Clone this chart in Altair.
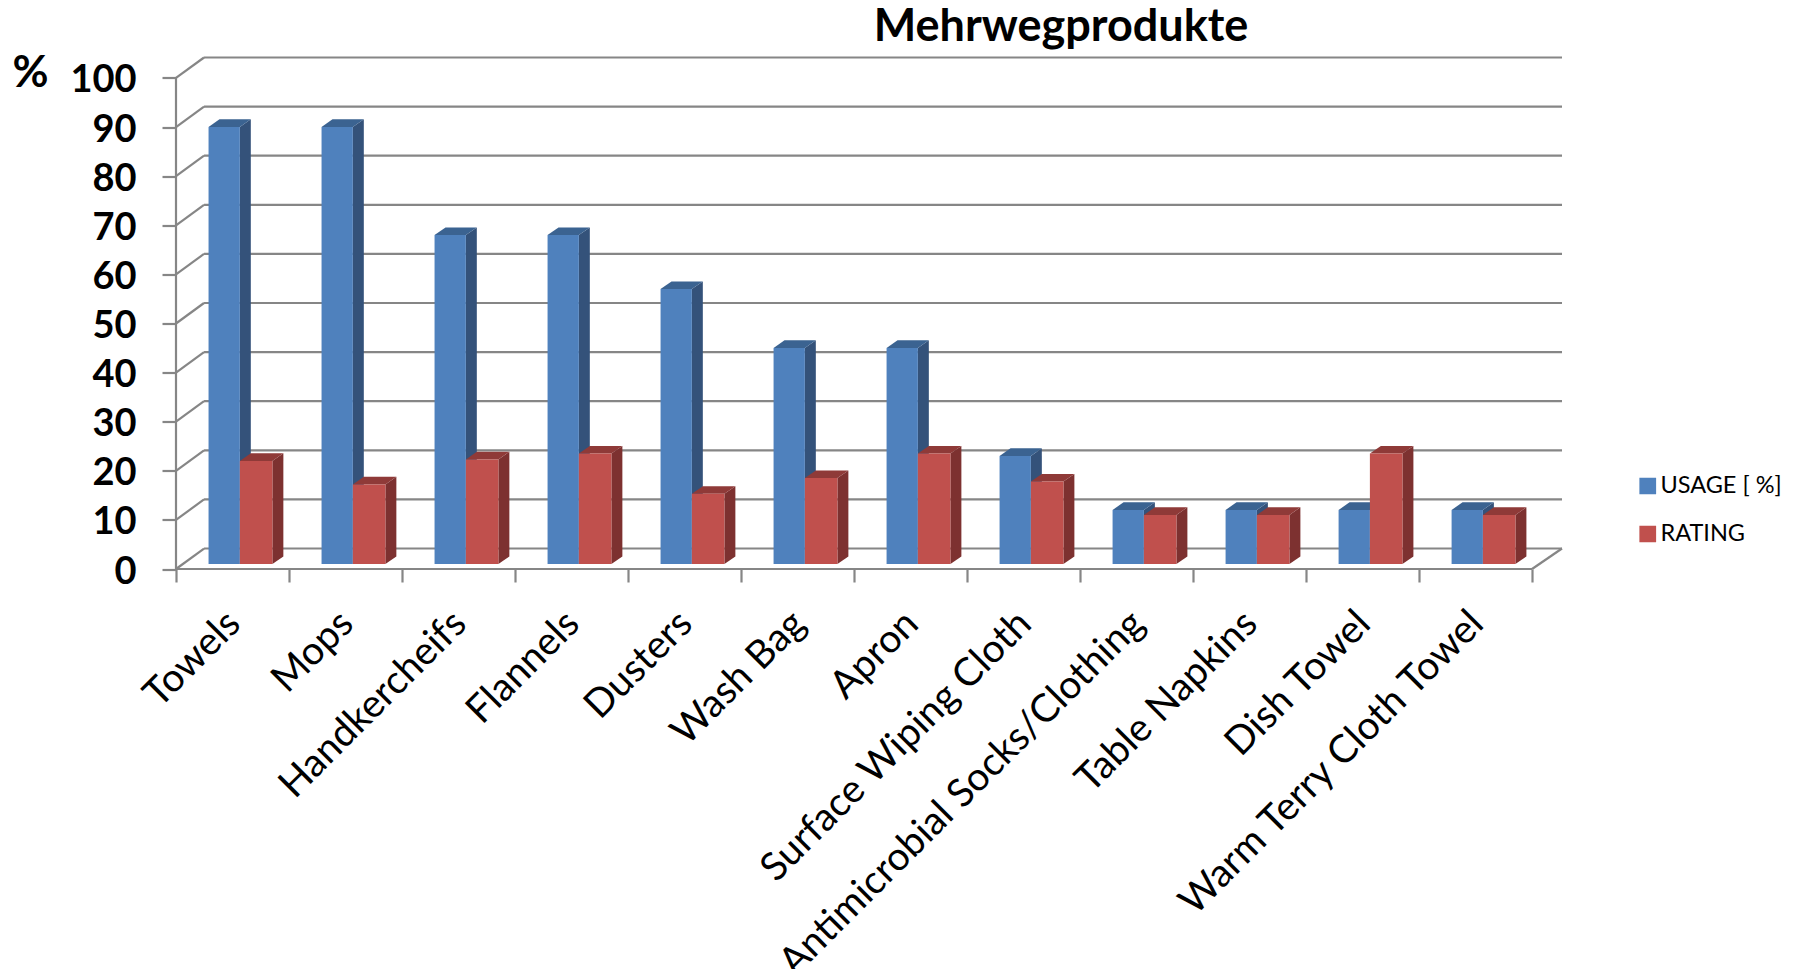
import altair as alt
import pandas as pd

categories = ["Towels", "Mops", "Handkercheifs", "Flannels", "Dusters", "Wash Bag", "Apron",
              "Surface Wiping Cloth", "Antimicrobial Socks/Clothing", "Table Napkins",
              "Dish Towel", "Warm Terry Cloth Towel"]
usage = [89, 89, 67, 67, 56, 44, 44, 22, 11, 11, 11, 11]
rating = [21, 16.2, 21.3, 22.5, 14.3, 17.5, 22.5, 16.8, 10, 10, 22.5, 10]
series_names = ["USAGE [ %]", "RATING"]
y_ticks = [0, 10, 20, 30, 40, 50, 60, 70, 80, 90, 100]

# 3-D projection, in data units
WALL_DX, WALL_DY = 0.248, 4.17
WALL_END = 0.265
BAR_DX, BAR_DY = 0.097, 1.55
BASE = 1.02
BLUE_L, MID, RED_R = 0.288, 0.565, 0.853
GREY = "#868686"
FONT = "Lato"

front, side, top = [], [], []
for i, cat in enumerate(categories):
    for s, val, l, r in ((series_names[0], usage[i], BLUE_L, MID), (series_names[1], rating[i], MID, RED_R)):
        a, b, t = i + l, i + r, val + BASE
        k = f"{i}-{s}"
        front.append(dict(s=s, x=a, x2=b, y=BASE, y2=t))
        side.append(dict(s=s, k=k, x=b, y=t, y2=BASE))
        side.append(dict(s=s, k=k, x=b + BAR_DX, y=t + BAR_DY, y2=BASE + BAR_DY))
        top.append(dict(s=s, k=k, x=a, x2=b, y=t))
        top.append(dict(s=s, k=k, x=a + BAR_DX, x2=b + BAR_DX, y=t + BAR_DY))
front, side, top = pd.DataFrame(front), pd.DataFrame(side), pd.DataFrame(top)

n = len(categories)
walls = [dict(x=0, x2=0, y=0, y2=100), dict(x=0, x2=n, y=0, y2=0),
         dict(x=n, x2=n + WALL_END, y=0, y2=WALL_DY)]
for v in y_ticks:
    walls.append(dict(x=0, x2=WALL_DX, y=v, y2=v + WALL_DY))
    walls.append(dict(x=WALL_DX, x2=n + WALL_END, y=v + WALL_DY, y2=v + WALL_DY))
walls = pd.DataFrame(walls)

labels = pd.DataFrame({"c": categories, "x": [i + 0.5 for i in range(n)]})

xs = alt.Scale(domain=[0, n + WALL_END], nice=False, zero=False)
ys = alt.Scale(domain=[0, 100 + WALL_DY], nice=False, zero=False)
PW, PH = 1386, 511.5

x_axis = alt.Axis(values=list(range(n + 1)), labels=False, title=None, domain=False,
                  grid=False, tickSize=13, tickColor=GREY, tickWidth=2.2)
y_axis = alt.Axis(values=y_ticks, title="%", titleAngle=0, titleX=-146, titleY=16,
                  titleFontSize=44, titleFont=FONT, titleFontWeight="bold",
                  titleColor="black", titleAlign="center", titleBaseline="middle",
                  domain=False, grid=False, tickSize=14, tickColor=GREY, tickWidth=2.2,
                  labelFont=FONT, labelFontSize=38, labelFontWeight="bold",
                  labelColor="black", labelPadding=26, labelOffset=3)

base = alt.Chart(walls).mark_rule(color=GREY, strokeWidth=2.2).encode(
    x=alt.X("x:Q", scale=xs, axis=x_axis),
    x2="x2:Q",
    y=alt.Y("y:Q", scale=ys, axis=y_axis),
    y2="y2:Q",
)


def faces(name, side_colour, top_colour):
    f = front[front.s == name]
    sd = side[side.s == name]
    tp = top[top.s == name]
    a = alt.Chart(f).mark_rect().encode(
        x=alt.X("x:Q", scale=xs, axis=x_axis), x2="x2:Q",
        y=alt.Y("y:Q", scale=ys, axis=y_axis), y2="y2:Q",
        color=alt.Color("s:N", scale=alt.Scale(domain=series_names, range=["#4F81BD", "#C0504D"]),
                        legend=alt.Legend(title=None, orient="none", legendX=1460, legendY=416,
                                          symbolType="square", symbolSize=280, symbolStrokeWidth=0,
                                          labelFont=FONT, labelFontSize=23.5, labelColor="black",
                                          rowPadding=23, labelOffset=1, clipHeight=25)),
    )
    b = alt.Chart(sd).mark_area(color=side_colour, opacity=1).encode(
        x=alt.X("x:Q", scale=xs, axis=x_axis),
        y=alt.Y("y:Q", scale=ys, axis=y_axis, stack=None), y2="y2:Q", detail="k:N",
    )
    c = alt.Chart(tp).mark_area(color=top_colour, opacity=1, orient="horizontal").encode(
        x=alt.X("x:Q", scale=xs, axis=x_axis, stack=None), x2="x2:Q",
        y=alt.Y("y:Q", scale=ys, axis=y_axis), detail="k:N",
    )
    return [b, c, a]


text = alt.Chart(labels).mark_text(angle=315, align="right", baseline="middle", font=FONT, fontSize=39,
                                   color="black", dx=2, dy=0).encode(
    x=alt.X("x:Q", scale=xs, axis=x_axis),
    y=alt.value(PH + 50),
    text="c:N",
)

chart = alt.layer(
    base,
    *faces(series_names[0], "#34527A", "#3B6391"),
    *faces(series_names[1], "#7D3130", "#8F3A38"),
    text,
).properties(
    width=PW, height=PH,
    title=alt.TitleParams("Mehrwegprodukte", font=FONT, fontSize=45, fontWeight="bold", color="black",
                          anchor="middle", dx=192, offset=2),
    padding={"left": 168, "top": 49.5, "right": 224, "bottom": 400},
    autosize=alt.AutoSizeParams(type="none"),
).configure_view(stroke=None)

chart.save("out.html", embed_options={"renderer": "svg", "actions": False})
